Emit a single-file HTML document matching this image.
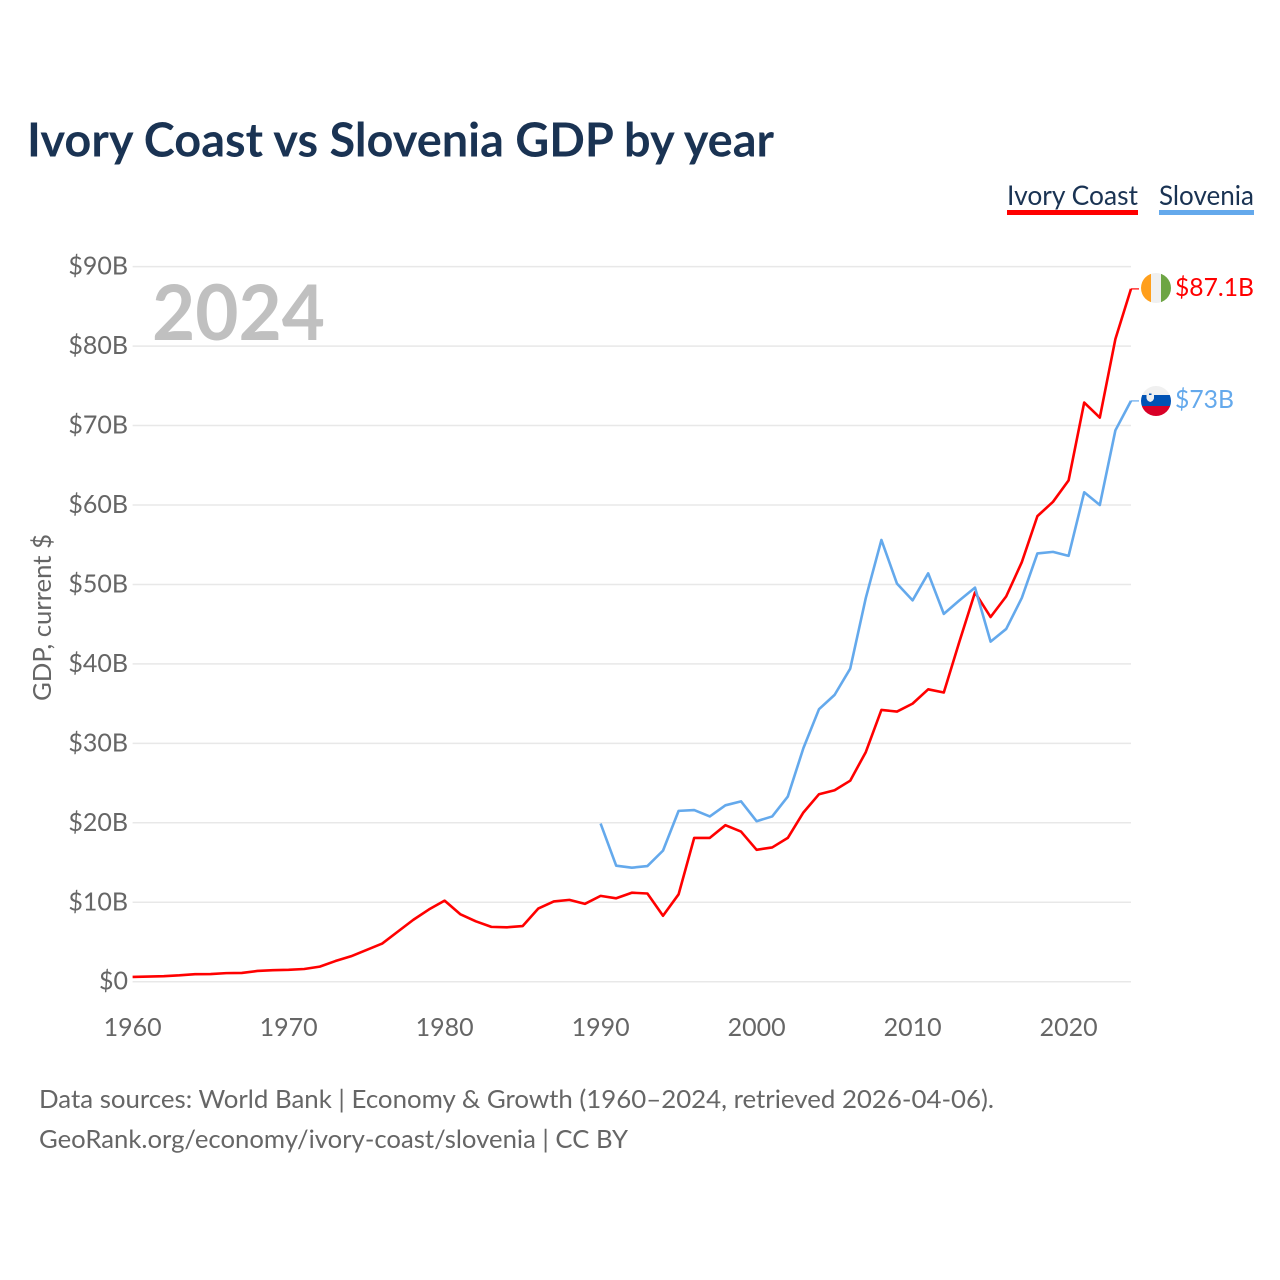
<!DOCTYPE html>
<html lang="en">
<head>
<meta charset="utf-8">
<title>Ivory Coast vs Slovenia GDP by year</title>
<style>
  html, body { margin: 0; padding: 0; background: #fff; }
  body { width: 1280px; height: 1280px; overflow: hidden; }
  svg { display: block; font-family: "Lato", "Carlito", "Liberation Sans", sans-serif; }
</style>
</head>
<body>
<svg id="chart" width="1280" height="1280" viewBox="0 0 1280 1280" xmlns="http://www.w3.org/2000/svg">
  <defs>
    <clipPath id="flag-clip-ci"><circle cx="1156" cy="288" r="15"></circle></clipPath>
    <clipPath id="flag-clip-si"><circle cx="1156" cy="401" r="15"></circle></clipPath>
  </defs>
  <rect width="1280" height="1280" fill="#ffffff"></rect>

  <text x="27" y="156.500" font-size="47" font-weight="700" fill="#1a3353" textLength="747" lengthAdjust="spacingAndGlyphs">Ivory Coast vs Slovenia GDP by year</text>

  <g id="grid"></g>
  <text x="152" y="340" font-size="77" font-weight="700" fill="#c0c0c0" textLength="173" lengthAdjust="spacingAndGlyphs">2024</text>
  <g id="y-ticks"></g>
  <g id="x-ticks"></g>
  <text x="0" y="0" transform="translate(51 617.5) rotate(-90)" text-anchor="middle" font-size="25.500" fill="#666666" textLength="167" lengthAdjust="spacingAndGlyphs">GDP, current $</text>

  <g id="series"></g>

  <g>
    <g>
      <text x="1007" y="205" font-size="27" fill="#1a3353" textLength="131" lengthAdjust="spacingAndGlyphs">Ivory Coast</text>
      <rect x="1007" y="210" width="131" height="5" fill="#ff0000"></rect>
    </g>
    <g>
      <text x="1159" y="205" font-size="27" fill="#1a3353" textLength="95" lengthAdjust="spacingAndGlyphs">Slovenia</text>
      <rect x="1159" y="210" width="95" height="5" fill="#64a9ec"></rect>
    </g>
  </g>

  <g clip-path="url(#flag-clip-ci)">
    <rect x="1141" y="273" width="10" height="30" fill="#ff9f1c"></rect>
    <rect x="1151" y="273" width="10" height="30" fill="#f0f0f0"></rect>
    <rect x="1161" y="273" width="10" height="30" fill="#6da544"></rect>
  </g>
  <g clip-path="url(#flag-clip-si)">
    <rect x="1141" y="386" width="30" height="9" fill="#f0f0f0"></rect>
    <rect x="1141" y="395" width="30" height="11" fill="#0052b4"></rect>
    <rect x="1141" y="406" width="30" height="10" fill="#d80027"></rect>
    <path d="M1146.500 393.500h7.500v4.500q0 2.500-3.750 4q-3.750-1.500-3.750-4z" fill="#f0f0f0"></path>
    <rect x="1149" y="393.500" width="2.500" height="1.500" fill="#0052b4"></rect>
  </g>

  <text x="1175" y="296" font-size="25.500" fill="#ff0000" textLength="79" lengthAdjust="spacingAndGlyphs">$87.1B</text>
  <text x="1175" y="408" font-size="25.500" fill="#64a9ec" textLength="59" lengthAdjust="spacingAndGlyphs">$73B</text>

  <text x="39" y="1108" font-size="25.500" fill="#666666" textLength="955" lengthAdjust="spacingAndGlyphs">Data sources: World Bank | Economy &amp; Growth (1960–2024, retrieved 2026-04-06).</text>
  <text x="39" y="1148" font-size="25.500" fill="#666666" textLength="589" lengthAdjust="spacingAndGlyphs">GeoRank.org/economy/ivory-coast/slovenia | CC BY</text>
</svg>

<script>
const years = [1960,1961,1962,1963,1964,1965,1966,1967,1968,1969,1970,1971,1972,1973,1974,1975,1976,1977,1978,1979,1980,1981,1982,1983,1984,1985,1986,1987,1988,1989,1990,1991,1992,1993,1994,1995,1996,1997,1998,1999,2000,2001,2002,2003,2004,2005,2006,2007,2008,2009,2010,2011,2012,2013,2014,2015,2016,2017,2018,2019,2020,2021,2022,2023,2024];
const ivoryCoast = [0.6,0.65,0.7,0.8,0.95,0.96,1.08,1.1,1.35,1.45,1.5,1.6,1.9,2.6,3.2,4.0,4.8,6.3,7.8,9.1,10.2,8.5,7.6,6.9,6.85,7.0,9.2,10.1,10.3,9.8,10.8,10.5,11.2,11.1,8.3,11.0,18.1,18.1,19.7,18.9,16.6,16.9,18.1,21.3,23.6,24.1,25.3,28.9,34.2,34.0,35.0,36.8,36.4,42.8,49.0,45.9,48.5,52.8,58.6,60.4,63.1,72.9,71.0,80.9,87.2];
const slovenia = [null,null,null,null,null,null,null,null,null,null,null,null,null,null,null,null,null,null,null,null,null,null,null,null,null,null,null,null,null,null,19.9,14.6,14.35,14.55,16.5,21.5,21.6,20.8,22.2,22.7,20.2,20.8,23.3,29.4,34.3,36.1,39.4,48.3,55.6,50.1,48.0,51.4,46.3,48.0,49.6,42.8,44.4,48.3,53.9,54.1,53.6,61.6,60.0,69.4,73.1];
const yTickValues = [0,10,20,30,40,50,60,70,80,90];
const yTickLabels = ['$0','$10B','$20B','$30B','$40B','$50B','$60B','$70B','$80B','$90B'];
const xTickValues = [1960,1970,1980,1990,2000,2010,2020];
const xTickLabels = ['1960','1970','1980','1990','2000','2010','2020'];

const SVG_NS = 'http://www.w3.org/2000/svg';
const xScale = function (year) { return 132.6 + (year - 1960) * 15.6; };
const yScale = function (value) { return 981.7 - value * 7.945; };

const gridGroup = document.getElementById('grid');
const yTickGroup = document.getElementById('y-ticks');
const xTickGroup = document.getElementById('x-ticks');
const seriesGroup = document.getElementById('series');

yTickValues.forEach(function (value, i) {
  const line = document.createElementNS(SVG_NS, 'line');
  
  
  line.setAttribute('x1', xScale(1960));
  line.setAttribute('x2', xScale(2024));
  line.setAttribute('y1', yScale(value));
  line.setAttribute('y2', yScale(value));
  line.setAttribute('stroke', '#e8e8e8');
  line.setAttribute('stroke-width', '1.5');
  gridGroup.appendChild(line);

  const label = document.createElementNS(SVG_NS, 'text');
  
  
  label.setAttribute('x', 128);
  label.setAttribute('y', yScale(value) + 8);
  label.setAttribute('text-anchor', 'end');
  label.setAttribute('font-size', '25');
  label.setAttribute('fill', '#666666');
  label.textContent = yTickLabels[i];
  yTickGroup.appendChild(label);
});

xTickValues.forEach(function (year, i) {
  const label = document.createElementNS(SVG_NS, 'text');
  
  
  label.setAttribute('x', xScale(year));
  label.setAttribute('y', 1036);
  label.setAttribute('text-anchor', 'middle');
  label.setAttribute('font-size', '25');
  label.setAttribute('fill', '#666666');
  label.textContent = xTickLabels[i];
  xTickGroup.appendChild(label);
});

function buildPoints(values) {
  const pts = [];
  values.forEach(function (value, i) {
    if (value !== null) {
      pts.push(xScale(years[i]).toFixed(2) + ',' + yScale(value).toFixed(2));
    }
  });
  return pts.join(' ');
}

function lastValue(values) {
  return values[values.length - 1];
}

const ivoryLine = document.createElementNS(SVG_NS, 'polyline');


ivoryLine.setAttribute('points', buildPoints(ivoryCoast));
ivoryLine.setAttribute('fill', 'none');
ivoryLine.setAttribute('stroke', '#ff0000');
ivoryLine.setAttribute('stroke-width', '2.6');
ivoryLine.setAttribute('stroke-linejoin', 'round');
seriesGroup.appendChild(ivoryLine);

const sloveniaLine = document.createElementNS(SVG_NS, 'polyline');


sloveniaLine.setAttribute('points', buildPoints(slovenia));
sloveniaLine.setAttribute('fill', 'none');
sloveniaLine.setAttribute('stroke', '#64a9ec');
sloveniaLine.setAttribute('stroke-width', '2.6');
sloveniaLine.setAttribute('stroke-linejoin', 'round');
seriesGroup.appendChild(sloveniaLine);

const ivoryConnector = document.createElementNS(SVG_NS, 'line');


ivoryConnector.setAttribute('x1', xScale(2024));
ivoryConnector.setAttribute('x2', xScale(2024) + 8);
ivoryConnector.setAttribute('y1', yScale(lastValue(ivoryCoast)));
ivoryConnector.setAttribute('y2', yScale(lastValue(ivoryCoast)));
ivoryConnector.setAttribute('stroke', '#ff0000');
ivoryConnector.setAttribute('stroke-width', '1.2');
seriesGroup.appendChild(ivoryConnector);

const sloveniaConnector = document.createElementNS(SVG_NS, 'line');


sloveniaConnector.setAttribute('x1', xScale(2024));
sloveniaConnector.setAttribute('x2', xScale(2024) + 8);
sloveniaConnector.setAttribute('y1', yScale(lastValue(slovenia)));
sloveniaConnector.setAttribute('y2', yScale(lastValue(slovenia)));
sloveniaConnector.setAttribute('stroke', '#64a9ec');
sloveniaConnector.setAttribute('stroke-width', '1.2');
seriesGroup.appendChild(sloveniaConnector);
</script>
</body>
</html>
